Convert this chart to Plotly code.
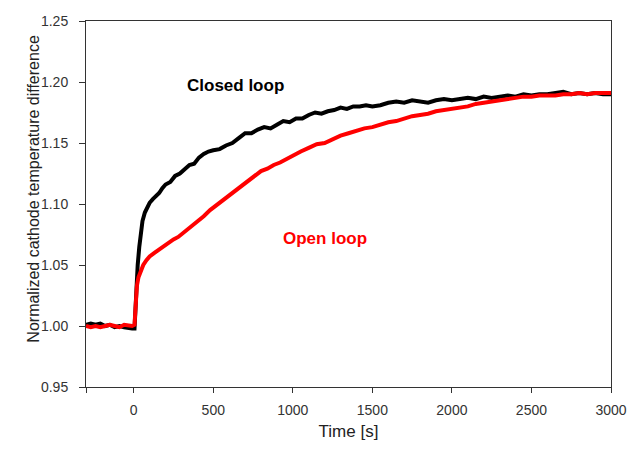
import plotly.graph_objects as go

# Closed loop (black)
closed_t = [-300, -270, -240, -210, -180, -150, -120, -90, -60, -30, -10, 5, 10, 15, 25, 35, 45, 55, 70, 85,
            100, 120, 140, 160, 180, 200, 230, 260, 290, 320, 350, 380, 410, 440, 470, 500, 540, 580, 620, 660,
            700, 740, 780, 820, 860, 900, 940, 980, 1020, 1060, 1100, 1140, 1180, 1220, 1260, 1300, 1340, 1380,
            1420, 1460, 1500, 1550, 1600, 1650, 1700, 1750, 1800, 1850, 1900, 1950, 2000, 2050, 2100, 2150,
            2200, 2250, 2300, 2350, 2400, 2450, 2500, 2550, 2600, 2650, 2700, 2750, 2800, 2850, 2900, 2950, 3000]
closed_v = [1.001, 1.002, 1.001, 1.002, 1.000, 1.001, 0.999, 1.000, 0.999, 0.998, 0.998, 0.998, 1.010, 1.035,
            1.050, 1.065, 1.078, 1.086, 1.093, 1.098, 1.101, 1.104, 1.106, 1.109, 1.113, 1.116, 1.118, 1.123,
            1.125, 1.129, 1.132, 1.133, 1.138, 1.141, 1.143, 1.144, 1.145, 1.148, 1.150, 1.154, 1.158, 1.158,
            1.161, 1.163, 1.162, 1.165, 1.168, 1.167, 1.170, 1.170, 1.173, 1.175, 1.174, 1.176, 1.177, 1.179,
            1.178, 1.180, 1.180, 1.181, 1.180, 1.181, 1.183, 1.184, 1.183, 1.185, 1.184, 1.183, 1.185, 1.186,
            1.185, 1.186, 1.187, 1.186, 1.188, 1.187, 1.188, 1.189, 1.188, 1.190, 1.189, 1.190, 1.190, 1.191,
            1.192, 1.190, 1.191, 1.190, 1.191, 1.190, 1.190]

# Open loop (red)
open_t = [-300, -270, -240, -210, -180, -150, -120, -90, -60, -30, -10, 5, 10, 15, 20, 30, 45, 60, 80, 100,
          130, 160, 190, 220, 250, 280, 310, 340, 370, 400, 440, 480, 520, 560, 600, 640, 680, 720, 760, 800,
          840, 880, 920, 960, 1000, 1050, 1100, 1150, 1200, 1250, 1300, 1350, 1400, 1450, 1500, 1550, 1600,
          1650, 1700, 1750, 1800, 1850, 1900, 1950, 2000, 2050, 2100, 2150, 2200, 2250, 2300, 2350, 2400,
          2450, 2500, 2550, 2600, 2650, 2700, 2750, 2800, 2850, 2900, 2950, 3000]
open_v = [1.000, 0.999, 1.000, 0.999, 1.000, 1.001, 1.000, 0.999, 1.001, 1.000, 1.000, 1.001, 1.015, 1.025,
          1.033, 1.040, 1.046, 1.050, 1.054, 1.057, 1.060, 1.063, 1.066, 1.068, 1.071, 1.073, 1.076, 1.079,
          1.083, 1.086, 1.090, 1.095, 1.099, 1.103, 1.106, 1.110, 1.114, 1.118, 1.122, 1.127, 1.129, 1.132,
          1.134, 1.137, 1.140, 1.143, 1.146, 1.149, 1.150, 1.153, 1.156, 1.158, 1.160, 1.162, 1.163, 1.165,
          1.167, 1.168, 1.170, 1.172, 1.173, 1.174, 1.176, 1.177, 1.178, 1.179, 1.180, 1.182, 1.183, 1.184,
          1.185, 1.186, 1.187, 1.188, 1.188, 1.189, 1.189, 1.189, 1.190, 1.190, 1.191, 1.190, 1.191, 1.191, 1.191]

x_ticks = [-300, 0, 500, 1000, 1500, 2000, 2500, 3000]
x_ticktext = ["", "0", "500", "1000", "1500", "2000", "2500", "3000"]
y_ticks = [0.95, 1.00, 1.05, 1.10, 1.15, 1.20, 1.25]

FONT = "Liberation Sans, Arial, sans-serif"

fig = go.Figure()
fig.add_trace(go.Scatter(x=closed_t, y=closed_v, mode="lines", line=dict(color="black", width=4),
                         name="Closed loop", showlegend=False))
fig.add_trace(go.Scatter(x=open_t, y=open_v, mode="lines", line=dict(color="#ff0000", width=4),
                         name="Open loop", showlegend=False))

fig.add_annotation(x=1, y=1.19, xref="x", yref="y", text="<b>Closed loop</b>", showarrow=False,
                   font=dict(family=FONT, size=17, color="black"))
fig.update_layout(annotations=list(fig.layout.annotations))
# position labels by data coords matching the reference
fig.layout.annotations[0].update(x=640, y=1.1968)
fig.add_annotation(x=1200, y=1.0715, xref="x", yref="y", text="<b>Open loop</b>", showarrow=False,
                   font=dict(family=FONT, size=17, color="#ff0000"))
fig.add_annotation(x=-0.119, y=0.542, xref="paper", yref="paper", textangle=-90,
                   text="Normalized cathode temperature difference", showarrow=False,
                   font=dict(family=FONT, size=16, color="#222"))

fig.update_layout(
    width=639, height=450,
    margin=dict(l=86, r=23, t=21, b=60),
    paper_bgcolor="white", plot_bgcolor="white",
    font=dict(family=FONT, color="#333"),
    xaxis=dict(range=[-300, 3000], tickvals=x_ticks, ticktext=x_ticktext,
               ticks="outside", ticklen=5, tickcolor="#333", showline=True, linecolor="#333", linewidth=1,
               mirror=True, showgrid=False, zeroline=False, tickfont=dict(size=14, color="#333"),
               ticklabelstandoff=5,
               title=dict(text="Time [s]", font=dict(size=17, color="#222"), standoff=8)),
    yaxis=dict(range=[0.95, 1.25], tickvals=y_ticks, tickformat=".2f",
               ticks="outside", ticklen=6, tickcolor="#333", showline=True, linecolor="#333", linewidth=1,
               mirror=True, showgrid=False, zeroline=False, tickfont=dict(size=14, color="#333"),
               ticklabelstandoff=8),
)

fig.write_html("out.html")
